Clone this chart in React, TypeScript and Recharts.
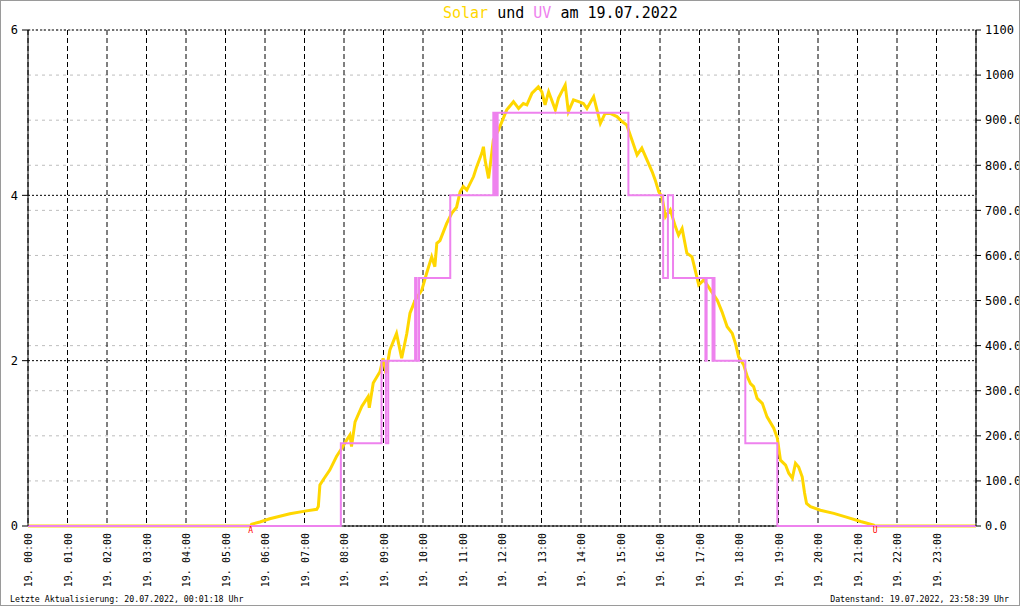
import { CartesianGrid, Line, LineChart, ReferenceDot, XAxis, YAxis } from 'recharts';

const FONT = '"DejaVu Sans Mono", monospace';
const SOLAR_COLOR = '#FFD700';
const UV_COLOR = '#EE82EE';

// hours of the day (x axis), left axis UV index, right axis solar W/m²
const hourTicks = [0, 1, 2, 3, 4, 5, 6, 7, 8, 9, 10, 11, 12, 13, 14, 15, 16, 17, 18, 19, 20, 21, 22, 23];
const uvTicks = [0, 2, 4, 6];
const solarTicks = [0, 100, 200, 300, 400, 500, 600, 700, 800, 900, 1000, 1100];

const sunrise = 5.64;
const sunset = 21.45;

// [hour, W/m²]
const solarReadings: [number, number][] = [
  [0, 0], [5.64, 0], [5.66, 4], [5.87, 9], [6.12, 16], [6.63, 27], [7.01, 33], [7.31, 37],
  [7.35, 43], [7.39, 91], [7.47, 102], [7.64, 124], [7.81, 154], [7.94, 172], [8.07, 191],
  [8.15, 202], [8.19, 176], [8.28, 231], [8.45, 265], [8.61, 287], [8.64, 262], [8.74, 317],
  [8.91, 342], [8.99, 372], [9.06, 339], [9.16, 390], [9.33, 427], [9.46, 372], [9.59, 427],
  [9.67, 472], [9.8, 501], [9.97, 523], [10.09, 560], [10.22, 597], [10.3, 575], [10.35, 627],
  [10.43, 633], [10.6, 671], [10.73, 694], [10.85, 707], [10.94, 741], [11.02, 753], [11.11, 745],
  [11.28, 775], [11.36, 797], [11.49, 827], [11.53, 841], [11.57, 812], [11.66, 771], [11.74, 827],
  [11.78, 856], [11.91, 878], [12.12, 923], [12.29, 941], [12.42, 926], [12.54, 937], [12.63, 934],
  [12.76, 960], [12.92, 974], [13.01, 963], [13.09, 934], [13.18, 963], [13.35, 923], [13.43, 949],
  [13.6, 978], [13.68, 919], [13.81, 945], [13.94, 941], [14.06, 937], [14.15, 926], [14.32, 952],
  [14.49, 893], [14.61, 915], [14.74, 915], [14.91, 908], [15.04, 897], [15.16, 889], [15.29, 856],
  [15.42, 823], [15.54, 838], [15.67, 812], [15.8, 786], [15.88, 767], [15.97, 741], [16.05, 730],
  [16.14, 686], [16.26, 701], [16.39, 664], [16.47, 645], [16.56, 660], [16.68, 605], [16.81, 597],
  [16.9, 564], [16.98, 535], [17.11, 546], [17.28, 523], [17.45, 501], [17.57, 475], [17.7, 442],
  [17.83, 427], [17.91, 405], [17.99, 375], [18.12, 357], [18.21, 331], [18.29, 316], [18.37, 309],
  [18.46, 283], [18.59, 272], [18.71, 242], [18.88, 217], [18.97, 195], [19.05, 146], [19.18, 135],
  [19.26, 117], [19.35, 106], [19.43, 139], [19.51, 131], [19.6, 109], [19.66, 73], [19.71, 50],
  [19.81, 43], [20.06, 35], [20.4, 28], [20.74, 19], [21.08, 10], [21.41, 2], [21.43, 0], [24, 0],
];

// [hour, UV index] - step changes
const uvReadings: [number, number][] = [
  [0, 0], [7.92, 1], [8.95, 2], [9.06, 1], [9.12, 2], [9.8, 3], [9.84, 2], [9.9, 3],
  [10.69, 4], [11.78, 5], [11.81, 4], [11.83, 5], [11.86, 4], [11.89, 5], [15.2, 4],
  [16.08, 3], [16.2, 4], [16.33, 3], [17.15, 2], [17.18, 3], [17.33, 2], [17.36, 3],
  [17.38, 2], [18.16, 1], [18.97, 0], [24, 0],
];

// baseline drawn under the series so the pink/yellow zero lines sit on top of it
const baseline = [{ t: 0, base: 0 }, { t: 24, base: 0 }];

const solarData = solarReadings.map(([t, v]) => ({ t, solar: v }));
const uvData = uvReadings.map(([t, v]) => ({ t, uv: v }));

const HourTick = (props: any) => {
  const { x, y, payload } = props;
  const hh = String(payload.value).padStart(2, '0');
  return (
    <text
      transform={`translate(${x + 4},${y + 7}) rotate(-90)`}
      textAnchor='end'
      fontFamily={FONT}
      fontSize={10}
      fill='#000'>
      {`19. ${hh}:00`}
    </text>
  );
};

const App = () => {
  return (
    <div style={{ position: 'fixed', left: 0, top: 0, width: 1020, height: 606, background: '#fff', overflow: 'hidden' }}>
      <LineChart width={1020} height={606} data={solarData} margin={{ top: 30, right: 0, bottom: 0, left: 0 }}>
        <CartesianGrid yAxisId='right' vertical={false} stroke='#bdbdbd' strokeDasharray='3 4' />
        <CartesianGrid yAxisId='left' vertical={false} stroke='#000' strokeDasharray='2 2' />
        <CartesianGrid horizontal={false} stroke='#000' strokeDasharray='5 3' />
        <XAxis
          dataKey='t'
          type='number'
          domain={[0, 24]}
          ticks={hourTicks}
          interval={0}
          height={80}
          tickSize={0}
          tickMargin={0}
          axisLine={false}
          tick={<HourTick />}
          allowDataOverflow
        />
        <YAxis
          yAxisId='left'
          domain={[0, 6]}
          ticks={uvTicks}
          width={28}
          tickSize={6}
          tickMargin={4}
          stroke='#000'
          tick={{ fill: '#000', fontSize: 12, fontFamily: FONT }}
        />
        <YAxis
          yAxisId='right'
          orientation='right'
          domain={[0, 1100]}
          ticks={solarTicks}
          width={44}
          tickSize={5}
          tickMargin={4}
          stroke='#000'
          tickFormatter={(v: number) => (v >= 1000 ? String(v) : v.toFixed(1))}
          tick={{ fill: '#000', fontSize: 12, fontFamily: FONT, textAnchor: 'start' }}
        />
        <Line
          yAxisId='left'
          data={baseline}
          dataKey='base'
          type='linear'
          stroke='#000'
          strokeWidth={1}
          dot={false}
          activeDot={false}
          isAnimationActive={false}
        />
        <Line
          yAxisId='right'
          data={solarData}
          dataKey='solar'
          type='linear'
          stroke={SOLAR_COLOR}
          strokeWidth={3}
          dot={false}
          isAnimationActive={false}
        />
        <Line
          yAxisId='left'
          data={uvData}
          dataKey='uv'
          type='stepAfter'
          stroke={UV_COLOR}
          strokeWidth={2}
          dot={false}
          isAnimationActive={false}
        />
        <ReferenceDot
          yAxisId='left'
          x={sunrise}
          y={0}
          r={0}
          fill='none'
          stroke='none'
          label={{ value: 'A', position: 'bottom', offset: 1, fill: '#ff0000', fontSize: 8, fontFamily: FONT }}
        />
        <ReferenceDot
          yAxisId='left'
          x={sunset}
          y={0}
          r={0}
          fill='none'
          stroke='none'
          label={{ value: 'U', position: 'bottom', offset: 1, fill: '#ff0000', fontSize: 8, fontFamily: FONT }}
        />
      </LineChart>
      <svg width={1020} height={606} style={{ position: 'absolute', left: 0, top: 0, pointerEvents: 'none' }}>
        <text x={443} y={18} fontFamily={FONT} fontSize={15} fill='#000'>
          <tspan fill={SOLAR_COLOR}>Solar</tspan>
          <tspan> und </tspan>
          <tspan fill={UV_COLOR}>UV</tspan>
          <tspan> am 19.07.2022</tspan>
        </text>
        <text x={10} y={602} fontFamily={FONT} fontSize={8.25} fill='#000'>
          Letzte Aktualisierung: 20.07.2022, 00:01:18 Uhr
        </text>
        <text x={1009} y={602} textAnchor='end' fontFamily={FONT} fontSize={8.25} fill='#000'>
          Datenstand: 19.07.2022, 23:58:39 Uhr
        </text>
        <rect x={0.5} y={0.5} width={1019} height={605} fill='none' stroke='#9a9a9a' />
      </svg>
    </div>
  );
};

export default App;
